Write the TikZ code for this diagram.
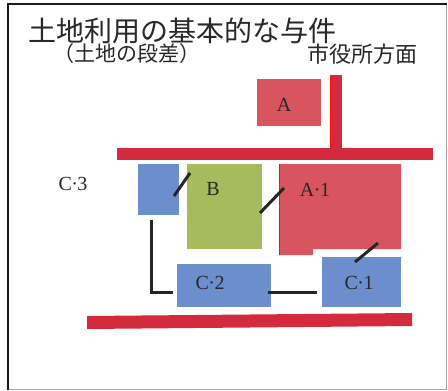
\documentclass[tikz,border=0pt]{standalone}
\usepackage{fontspec}
\newfontfamily\cjk{Noto Sans CJK JP}
\newfontfamily\lblfont{Liberation Serif}
\newcommand{\md}{\kern-0.5pt·\kern-0.5pt}
\definecolor{barred}{RGB}{212,42,62}
\definecolor{boxred}{RGB}{216,84,94}
\definecolor{boxgreen}{RGB}{166,188,92}
\definecolor{boxblue}{RGB}{108,142,204}
\definecolor{txt}{RGB}{40,40,40}
\tikzset{
  bar/.style={fill=barred,draw=none},
  lbl/.style={font=\lblfont\fontsize{20}{20}\selectfont,text=txt,inner sep=0pt},
  conn/.style={line width=3pt,black!85,line cap=butt}
}
\begin{document}
\begin{tikzpicture}[x=1pt,y=-1pt]
\useasboundingbox (0,0) rectangle (448,391);
\fill[white] (0,0) rectangle (448,391);
% frame
\draw[black!35,line width=0.8pt] (446.5,4) -- (446.5,389.5) -- (8,389.5);
\draw[black!90,line width=1.6pt] (8,390) -- (8,4) -- (446.5,4);
% titles
\node[font=\cjk\fontsize{28}{28}\selectfont,text=txt,anchor=west,inner sep=0pt] (title) at (28,31) {土地利用の基本的な与件};
\node[font=\cjk\fontsize{21}{21}\selectfont,text=txt,anchor=west,inner sep=0pt] (sub) at (53,54) {（土地の段差）};
\node[font=\cjk\fontsize{22}{22}\selectfont,text=txt,anchor=west,inner sep=0pt] (city) at (307,54) {市役所方面};
% bars
\fill[bar] (330,75) rectangle (342,150);
\draw[red!90!orange,line width=1pt] (330.5,75) -- (330.5,148);
\fill[bar] (117,148) rectangle (433,160);
\fill[bar] (87,316) -- (412,313) -- (412,326) -- (87,329) -- cycle;
% boxes
\fill[boxred] (257,79) rectangle (321,126);
\node[lbl] (A) at (284,105) {A};
\fill[boxblue] (138,164) rectangle (179,215);
\fill[boxgreen] (187,164) rectangle (262,249);
\node[lbl] (B) at (213,189) {B};
\fill[boxred] (279,164) -- (401,164) -- (401,249) -- (313,249) -- (313,255) -- (279,255) -- cycle;
\draw[red!90!orange,line width=1pt] (279.5,164) -- (279.5,255);
\node[lbl] (A1) at (315,190) {A\md 1};
\fill[boxblue] (177,264) rectangle (271,307);
\node[lbl] (C2) at (210,283) {C\md 2};
\fill[boxblue] (322,257) rectangle (401,307);
\node[lbl] (C1) at (359,283) {C\md 1};
\node[lbl] (C3) at (73,184) {C\md 3};
% connectors
\coordinate (p1) at (174,196); \coordinate (p2) at (190,173);
\draw[conn] (p1) -- (p2);
\coordinate (q1) at (260,213); \coordinate (q2) at (284,188);
\draw[conn] (q1) -- (q2);
\coordinate (r1) at (355,262); \coordinate (r2) at (378,243);
\draw[conn] (r1) -- (r2);
\coordinate (s1) at (151,220); \coordinate (s2) at (151,292); \coordinate (s3) at (173,292);
\draw[conn,line join=miter] (s1) -- (s2) -- (s3);
\coordinate (t1) at (268,292); \coordinate (t2) at (317,292);
\draw[conn] (t1) -- (t2);
\end{tikzpicture}
\end{document}
